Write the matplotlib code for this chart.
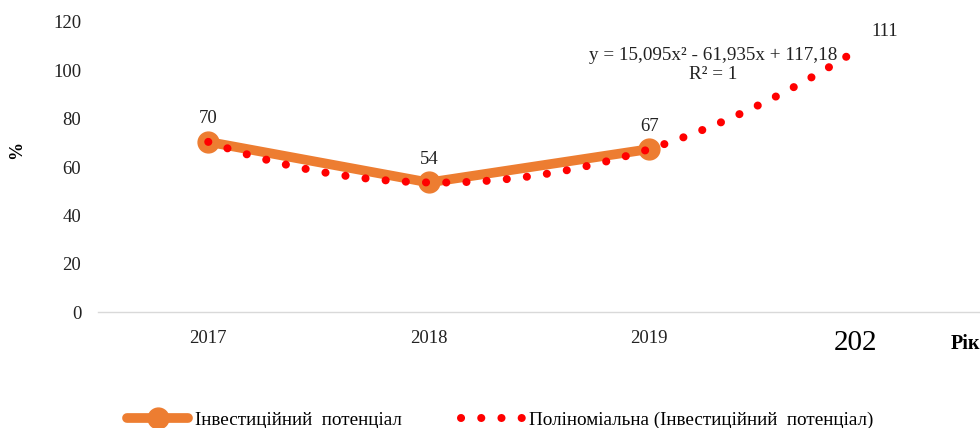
import numpy as np
import matplotlib.pyplot as plt

plt.rcParams['font.family'] = ['Liberation Serif', 'DejaVu Serif']

# дані
years = ['2017', '2018', '2019']
potential = [70.4, 53.6, 67.4]
forecast_value = 111
trend_end = 3.9
equation = 'y = 15,095x² - 61,935x + 117,18\nR² = 1'

fig = plt.figure(figsize=(9.8, 4.28), dpi=100)
ax = fig.add_axes([0.1, 0.271, 0.9, 0.6776])

x = np.arange(1, len(years) + 1)

# поліноміальний тренд 2-го ступеня
coef = np.polyfit(x, potential, 2)
xt = np.linspace(1, trend_end, 200)
yt = np.polyval(coef, xt)

ax.plot(x, potential, color='#ED7D31', linewidth=7, marker='o', markersize=15,
        solid_capstyle='round', zorder=2, label='Інвестиційний  потенціал')
ax.plot(xt, yt, color='#FF0000', linewidth=5.8, linestyle=(0, (0.01, 2.5)),
        dash_capstyle='round', zorder=3,
        label='Поліноміальна (Інвестиційний  потенціал)')

# підписи значень
for xi, v in zip(x, potential):
    ax.annotate(f'{v:.0f}', (xi, v), xytext=(0, 10.5), textcoords='offset points',
                ha='center', va='bottom', fontsize=13.5, color='#222222')
ax.annotate(f'{forecast_value}', (4.07, forecast_value), xytext=(0, 3),
            textcoords='offset points', ha='center', va='bottom',
            fontsize=13.5, color='#222222')

ax.text(3.29, 109.5, equation, ha='center', va='top', fontsize=13.8,
        color='#222222', linespacing=1.1, multialignment='center')

ax.set_xlim(0.5, 4.5)
ax.set_ylim(0, 120)
ax.set_yticks(range(0, 121, 20))
ax.set_xticks(x)
ax.set_xticklabels(years)
ax.tick_params(axis='both', length=0, labelsize=13.5, colors='#222222')
ax.tick_params(axis='y', pad=12)
ax.tick_params(axis='x', pad=13)

for s in ['top', 'right', 'left']:
    ax.spines[s].set_visible(False)
ax.spines['bottom'].set_color('#D9D9D9')
ax.spines['bottom'].set_linewidth(1)

fig.text(17 / 980, 1 - 150 / 428, '%', rotation=90, ha='center', va='center',
         fontsize=13, fontweight='bold')

fig.text(855 / 980, 1 - 343 / 428, '202', ha='center', va='center', fontsize=21)
fig.text(1.0, 1 - 344 / 428, 'Рік', ha='right', va='center', fontsize=14.5,
         fontweight='bold')

fig.legend(loc='lower left', bbox_to_anchor=(0.112, -0.042), ncol=2, frameon=False,
           fontsize=13.8, handlelength=3.2, columnspacing=3.1, handletextpad=0.35)

fig.savefig('out.png', dpi=100)
